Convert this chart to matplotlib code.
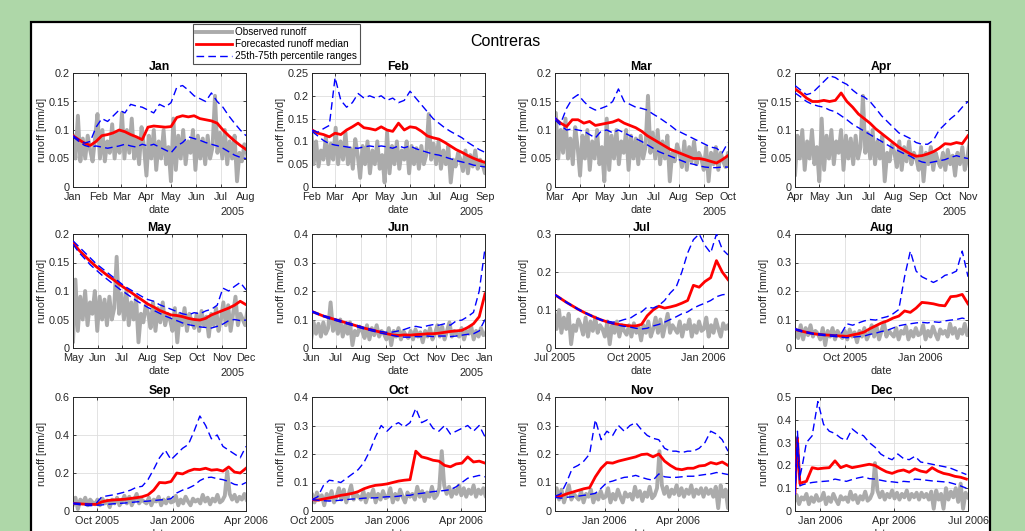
import numpy as np
import pandas as pd
import matplotlib
matplotlib.use('Agg')
import matplotlib.pyplot as plt
import matplotlib.dates as mdates
from matplotlib.patches import Rectangle
from matplotlib.ticker import FuncFormatter, MultipleLocator

plt.rcParams['font.family'] = ['Liberation Sans', 'DejaVu Sans']

# ---------------- data ----------------
MONTHS = ['Jan', 'Feb', 'Mar', 'Apr', 'May', 'Jun',
          'Jul', 'Aug', 'Sep', 'Oct', 'Nov', 'Dec']
STARTS = ['2005-01-01', '2005-02-01', '2005-03-01', '2005-04-01', '2005-05-01', '2005-06-01',
          '2005-07-01', '2005-08-01', '2005-09-01', '2005-10-01', '2005-11-01', '2005-12-01']
YMAX = [0.2, 0.25, 0.2, 0.2, 0.2, 0.4, 0.3, 0.4, 0.6, 0.4, 0.4, 0.5]
YSTEP = [0.05, 0.05, 0.05, 0.05, 0.05, 0.1, 0.1, 0.1, 0.2, 0.1, 0.1, 0.1]

# observed runoff, every 3 days from 2005-01-01
OBS_START = '2005-01-01'
obs = [
    0.090, 0.050, 0.125, 0.045, 0.085, 0.050, 0.090, 0.065, 0.045, 0.085,
    0.128, 0.050, 0.100, 0.045, 0.080, 0.060, 0.110, 0.050, 0.095, 0.060,
    0.130, 0.050, 0.100, 0.060, 0.120, 0.050, 0.085, 0.040, 0.105, 0.070,
    0.020, 0.090, 0.050, 0.100, 0.030, 0.080, 0.050, 0.100, 0.040, 0.070,
    0.010, 0.120, 0.030, 0.090, 0.050, 0.100, 0.040, 0.080, 0.060, 0.100,
    0.030, 0.090, 0.050, 0.085, 0.040, 0.090, 0.050, 0.070, 0.160, 0.060,
    0.095, 0.050, 0.100, 0.040, 0.080, 0.050, 0.090, 0.010, 0.060, 0.045, 0.075,
    0.060, 0.035, 0.080, 0.030, 0.070, 0.045, 0.080, 0.040, 0.060, 0.050,
    0.030, 0.070, 0.010, 0.060, 0.040, 0.070, 0.030, 0.060, 0.045, 0.035,
    0.060, 0.030, 0.065, 0.040, 0.055, 0.020, 0.060, 0.040, 0.070, 0.030,
    0.050, 0.080, 0.040, 0.075, 0.030, 0.060, 0.090, 0.040, 0.060, 0.050,
    0.040, 0.070, 0.030, 0.060, 0.050, 0.075, 0.030, 0.060, 0.040, 0.070, 0.045,
    0.050, 0.080, 0.030, 0.060, 0.040, 0.075, 0.050, 0.030, 0.065, 0.050,
    0.060, 0.040, 0.085, 0.050, 0.070, 0.035, 0.065, 0.050, 0.085, 0.045,
    0.055, 0.080, 0.210, 0.090, 0.060, 0.085, 0.050, 0.075, 0.060, 0.090,
    0.055, 0.080, 0.050, 0.075, 0.060, 0.090, 0.050, 0.075, 0.060, 0.080,
    0.050, 0.080, 0.060, 0.075, 0.050, 0.085, 0.010, 0.090, 0.050, 0.075,
    0.010, 0.100, 0.050, 0.085, 0.060, 0.100, 0.040, 0.120, 0.010, 0.080, 0.060,
]

# forecasts (median, 25th, 75th percentile), evenly spaced over each 7-month window
med_jan = [0.090, 0.083, 0.077, 0.073, 0.080, 0.090, 0.092, 0.095, 0.100, 0.097, 0.092, 0.088, 0.083, 0.105, 0.107, 0.106,
           0.105, 0.106, 0.122, 0.125, 0.123, 0.125, 0.120, 0.118, 0.116, 0.112, 0.100, 0.090, 0.081, 0.073, 0.066]
p75_jan = [0.090, 0.083, 0.077, 0.080, 0.105, 0.120, 0.115, 0.125, 0.135, 0.130, 0.145, 0.142, 0.140, 0.135, 0.130, 0.145,
           0.140, 0.148, 0.175, 0.178, 0.170, 0.160, 0.155, 0.150, 0.165, 0.150, 0.140, 0.125, 0.112, 0.100, 0.090]
p25_jan = [0.088, 0.080, 0.073, 0.070, 0.072, 0.070, 0.068, 0.070, 0.072, 0.075, 0.072, 0.070, 0.075, 0.072, 0.075, 0.070,
           0.065, 0.060, 0.072, 0.078, 0.088, 0.085, 0.082, 0.078, 0.075, 0.072, 0.068, 0.062, 0.056, 0.052, 0.050]

med_feb = [0.125, 0.118, 0.115, 0.110, 0.118, 0.115, 0.125, 0.132, 0.140, 0.130, 0.128, 0.125, 0.132, 0.125, 0.122, 0.140,
           0.125, 0.132, 0.130, 0.122, 0.112, 0.108, 0.105, 0.098, 0.090, 0.082, 0.076, 0.069, 0.063, 0.058, 0.054]
p75_feb = [0.125, 0.120, 0.128, 0.135, 0.240, 0.190, 0.175, 0.185, 0.205, 0.195, 0.200, 0.195, 0.200, 0.190, 0.195, 0.185,
           0.190, 0.210, 0.195, 0.180, 0.165, 0.150, 0.140, 0.130, 0.122, 0.115, 0.108, 0.098, 0.090, 0.082, 0.076]
p25_feb = [0.122, 0.112, 0.102, 0.095, 0.092, 0.090, 0.088, 0.086, 0.085, 0.088, 0.090, 0.088, 0.090, 0.088, 0.085, 0.090,
           0.086, 0.090, 0.084, 0.080, 0.076, 0.072, 0.070, 0.066, 0.062, 0.058, 0.055, 0.052, 0.048, 0.046, 0.044]

med_mar = [0.120, 0.112, 0.106, 0.118, 0.118, 0.112, 0.115, 0.108, 0.110, 0.112, 0.114, 0.118, 0.112, 0.108, 0.104, 0.098,
           0.090, 0.084, 0.078, 0.072, 0.066, 0.062, 0.058, 0.054, 0.050, 0.050, 0.048, 0.045, 0.042, 0.048, 0.055]
p75_mar = [0.122, 0.112, 0.138, 0.155, 0.162, 0.150, 0.140, 0.135, 0.138, 0.142, 0.150, 0.172, 0.150, 0.145, 0.140, 0.138,
           0.135, 0.128, 0.122, 0.115, 0.108, 0.100, 0.095, 0.090, 0.085, 0.080, 0.075, 0.070, 0.068, 0.060, 0.078]
p25_mar = [0.118, 0.108, 0.100, 0.102, 0.100, 0.098, 0.092, 0.086, 0.098, 0.100, 0.095, 0.100, 0.095, 0.090, 0.085, 0.080,
           0.074, 0.068, 0.062, 0.058, 0.054, 0.050, 0.046, 0.042, 0.040, 0.037, 0.035, 0.034, 0.034, 0.035, 0.035]

med_apr = [0.172, 0.165, 0.156, 0.150, 0.150, 0.152, 0.150, 0.152, 0.165, 0.150, 0.140, 0.128, 0.120, 0.112, 0.102, 0.094,
           0.086, 0.078, 0.070, 0.064, 0.058, 0.054, 0.055, 0.058, 0.062, 0.068, 0.076, 0.075, 0.078, 0.076, 0.090]
p75_apr = [0.178, 0.170, 0.162, 0.165, 0.175, 0.185, 0.195, 0.192, 0.185, 0.180, 0.170, 0.162, 0.158, 0.150, 0.138, 0.125,
           0.115, 0.105, 0.095, 0.090, 0.085, 0.078, 0.075, 0.075, 0.082, 0.100, 0.110, 0.120, 0.128, 0.140, 0.150]
p25_apr = [0.165, 0.158, 0.150, 0.145, 0.142, 0.140, 0.135, 0.132, 0.125, 0.118, 0.110, 0.104, 0.098, 0.092, 0.086, 0.080,
           0.074, 0.068, 0.063, 0.058, 0.054, 0.048, 0.044, 0.042, 0.044, 0.046, 0.048, 0.052, 0.055, 0.052, 0.050]

med_may = [0.185, 0.172, 0.162, 0.152, 0.143, 0.135, 0.127, 0.120, 0.112, 0.105, 0.098, 0.091, 0.084, 0.077, 0.072, 0.066,
           0.062, 0.058, 0.057, 0.055, 0.052, 0.050, 0.049, 0.052, 0.058, 0.062, 0.066, 0.070, 0.075, 0.082, 0.076]
p75_may = [0.188, 0.178, 0.168, 0.158, 0.148, 0.140, 0.132, 0.124, 0.116, 0.108, 0.102, 0.096, 0.090, 0.085, 0.082, 0.076,
           0.072, 0.068, 0.064, 0.060, 0.058, 0.062, 0.060, 0.065, 0.068, 0.075, 0.105, 0.100, 0.108, 0.115, 0.102]
p25_may = [0.182, 0.168, 0.157, 0.146, 0.137, 0.128, 0.120, 0.112, 0.104, 0.097, 0.090, 0.083, 0.077, 0.071, 0.066, 0.061,
           0.056, 0.052, 0.048, 0.044, 0.041, 0.039, 0.037, 0.036, 0.035, 0.038, 0.042, 0.048, 0.050, 0.048, 0.049]

med_jun = [0.128, 0.120, 0.112, 0.106, 0.100, 0.094, 0.088, 0.082, 0.076, 0.070, 0.065, 0.060, 0.055, 0.050, 0.046, 0.044,
           0.046, 0.045, 0.047, 0.048, 0.050, 0.050, 0.052, 0.055, 0.058, 0.060, 0.062, 0.072, 0.085, 0.110, 0.190]
p75_jun = [0.130, 0.122, 0.114, 0.108, 0.102, 0.096, 0.090, 0.084, 0.078, 0.072, 0.067, 0.062, 0.058, 0.055, 0.056, 0.060,
           0.065, 0.072, 0.076, 0.072, 0.078, 0.082, 0.080, 0.085, 0.080, 0.095, 0.098, 0.110, 0.125, 0.200, 0.350]
p25_jun = [0.126, 0.118, 0.110, 0.103, 0.097, 0.091, 0.085, 0.079, 0.073, 0.067, 0.062, 0.057, 0.052, 0.048, 0.044, 0.040,
           0.038, 0.038, 0.040, 0.040, 0.042, 0.040, 0.042, 0.042, 0.040, 0.042, 0.045, 0.048, 0.050, 0.060, 0.100]

med_jul = [0.140, 0.130, 0.120, 0.111, 0.102, 0.094, 0.087, 0.080, 0.074, 0.069, 0.065, 0.062, 0.060, 0.058, 0.058, 0.062,
           0.085, 0.100, 0.110, 0.105, 0.108, 0.112, 0.118, 0.125, 0.165, 0.160, 0.175, 0.185, 0.230, 0.200, 0.180]
p75_jul = [0.141, 0.131, 0.121, 0.112, 0.103, 0.095, 0.088, 0.081, 0.075, 0.071, 0.068, 0.070, 0.075, 0.078, 0.088, 0.095,
           0.108, 0.105, 0.112, 0.125, 0.145, 0.160, 0.200, 0.250, 0.285, 0.300, 0.270, 0.250, 0.300, 0.260, 0.245]
p25_jul = [0.139, 0.129, 0.119, 0.110, 0.101, 0.093, 0.086, 0.079, 0.073, 0.068, 0.064, 0.060, 0.057, 0.055, 0.052, 0.050,
           0.052, 0.058, 0.062, 0.068, 0.075, 0.082, 0.090, 0.095, 0.105, 0.112, 0.118, 0.125, 0.135, 0.140, 0.142]

med_aug = [0.065, 0.060, 0.055, 0.051, 0.048, 0.046, 0.045, 0.043, 0.042, 0.041, 0.046, 0.050, 0.056, 0.068, 0.078, 0.088,
           0.095, 0.105, 0.112, 0.130, 0.125, 0.140, 0.160, 0.158, 0.155, 0.150, 0.148, 0.180, 0.182, 0.188, 0.155]
p75_aug = [0.068, 0.062, 0.057, 0.052, 0.050, 0.048, 0.046, 0.045, 0.050, 0.085, 0.080, 0.088, 0.095, 0.100, 0.098, 0.105,
           0.110, 0.120, 0.135, 0.250, 0.340, 0.270, 0.250, 0.240, 0.230, 0.240, 0.255, 0.260, 0.270, 0.340, 0.250]
p25_aug = [0.064, 0.058, 0.053, 0.049, 0.046, 0.044, 0.042, 0.040, 0.038, 0.036, 0.038, 0.040, 0.042, 0.048, 0.052, 0.058,
           0.062, 0.070, 0.078, 0.082, 0.085, 0.088, 0.090, 0.088, 0.092, 0.090, 0.095, 0.098, 0.100, 0.105, 0.100]

med_sep = [0.040, 0.038, 0.036, 0.035, 0.035, 0.048, 0.055, 0.058, 0.060, 0.062, 0.066, 0.070, 0.075, 0.085, 0.110, 0.150,
           0.148, 0.155, 0.200, 0.195, 0.210, 0.220, 0.218, 0.225, 0.215, 0.218, 0.210, 0.232, 0.205, 0.200, 0.225]
p75_sep = [0.042, 0.040, 0.038, 0.036, 0.040, 0.075, 0.080, 0.085, 0.092, 0.100, 0.110, 0.125, 0.130, 0.165, 0.220, 0.280,
           0.320, 0.270, 0.300, 0.330, 0.350, 0.420, 0.500, 0.450, 0.380, 0.400, 0.340, 0.320, 0.300, 0.280, 0.340]
p25_sep = [0.038, 0.034, 0.030, 0.028, 0.030, 0.032, 0.035, 0.038, 0.040, 0.042, 0.045, 0.048, 0.050, 0.052, 0.055, 0.058,
           0.060, 0.065, 0.095, 0.110, 0.120, 0.135, 0.160, 0.175, 0.178, 0.170, 0.165, 0.155, 0.140, 0.135, 0.150]

med_oct = [0.040, 0.038, 0.042, 0.046, 0.050, 0.055, 0.058, 0.062, 0.068, 0.078, 0.085, 0.090, 0.092, 0.095, 0.100, 0.105,
           0.108, 0.110, 0.210, 0.190, 0.185, 0.178, 0.175, 0.160, 0.155, 0.165, 0.168, 0.190, 0.172, 0.175, 0.168]
p75_oct = [0.040, 0.050, 0.090, 0.108, 0.105, 0.100, 0.115, 0.130, 0.145, 0.170, 0.210, 0.260, 0.300, 0.280, 0.300, 0.310,
           0.295, 0.310, 0.360, 0.310, 0.320, 0.290, 0.280, 0.300, 0.270, 0.280, 0.290, 0.300, 0.280, 0.300, 0.260]
p25_oct = [0.040, 0.038, 0.036, 0.035, 0.036, 0.038, 0.040, 0.042, 0.043, 0.045, 0.046, 0.046, 0.048, 0.050, 0.050, 0.052,
           0.055, 0.055, 0.060, 0.062, 0.065, 0.068, 0.070, 0.072, 0.075, 0.085, 0.100, 0.115, 0.120, 0.125, 0.120]

med_nov = [0.050, 0.052, 0.060, 0.066, 0.072, 0.078, 0.082, 0.120, 0.150, 0.170, 0.168, 0.175, 0.180, 0.185, 0.190, 0.198,
           0.200, 0.190, 0.200, 0.175, 0.160, 0.148, 0.145, 0.150, 0.150, 0.158, 0.160, 0.170, 0.165, 0.172, 0.160]
p75_nov = [0.052, 0.060, 0.100, 0.150, 0.160, 0.175, 0.200, 0.320, 0.250, 0.280, 0.265, 0.300, 0.280, 0.300, 0.310, 0.285,
           0.265, 0.255, 0.250, 0.220, 0.210, 0.210, 0.205, 0.210, 0.210, 0.220, 0.240, 0.280, 0.270, 0.250, 0.210]
p25_nov = [0.048, 0.045, 0.048, 0.050, 0.052, 0.055, 0.058, 0.062, 0.080, 0.100, 0.105, 0.112, 0.118, 0.120, 0.125, 0.118,
           0.112, 0.108, 0.130, 0.120, 0.118, 0.118, 0.120, 0.122, 0.122, 0.125, 0.128, 0.130, 0.135, 0.132, 0.128]

# December forecast has a denser start (days after 1 Dec 2005)
DEC_DAYS = [0, 3, 6, 9] + list(range(14, 211, 7))
med_dec = [0.080, 0.320, 0.120, 0.125, 0.130, 0.190, 0.185, 0.188, 0.190, 0.220, 0.190, 0.200, 0.190, 0.195, 0.200, 0.205,
           0.200, 0.185, 0.172, 0.165, 0.175, 0.180, 0.170, 0.185, 0.175, 0.170, 0.190, 0.175, 0.165, 0.160, 0.152,
           0.148, 0.140]
p75_dec = [0.090, 0.350, 0.150, 0.200, 0.300, 0.330, 0.480, 0.380, 0.350, 0.340, 0.320, 0.310, 0.360, 0.340, 0.330, 0.300,
           0.280, 0.250, 0.235, 0.225, 0.250, 0.230, 0.225, 0.240, 0.215, 0.210, 0.205, 0.200, 0.195, 0.190, 0.180,
           0.170, 0.160]
p25_dec = [0.070, 0.300, 0.110, 0.115, 0.120, 0.125, 0.128, 0.130, 0.132, 0.140, 0.135, 0.130, 0.138, 0.145, 0.150, 0.142,
           0.140, 0.135, 0.130, 0.128, 0.125, 0.130, 0.128, 0.140, 0.138, 0.135, 0.132, 0.130, 0.128, 0.125, 0.118,
           0.110, 0.100]

MED = [med_jan, med_feb, med_mar, med_apr, med_may, med_jun, med_jul, med_aug, med_sep, med_oct, med_nov, med_dec]
P25 = [p25_jan, p25_feb, p25_mar, p25_apr, p25_may, p25_jun, p25_jul, p25_aug, p25_sep, p25_oct, p25_nov, p25_dec]
P75 = [p75_jan, p75_feb, p75_mar, p75_apr, p75_may, p75_jun, p75_jul, p75_aug, p75_sep, p75_oct, p75_nov, p75_dec]

# ---------------- styling ----------------
GREEN = '#aed7a8'
GRAY = '#ababab'
AXC = '#262626'
W, H = 1025, 531
FS = 7.8

fig = plt.figure(figsize=(W / 100, H / 100), dpi=100, facecolor=GREEN)
bg = fig.add_axes([0, 0, 1, 1], zorder=-10)
bg.set_xlim(0, W)
bg.set_ylim(H, 0)
bg.axis('off')
bg.add_patch(Rectangle((30.5, 22), 959, H + 20, facecolor='white', edgecolor='black', linewidth=1.6))

col_left = [73, 312, 555, 795]
row_top = [73, 234, 397]
axw, axh = 173, 114

obs_dates = pd.Timestamp(OBS_START) + pd.to_timedelta(np.arange(len(obs)) * 3, unit='D')
yfmt = FuncFormatter(lambda v, p: '%g' % round(v, 4))

handles = None
for i in range(12):
    r, c = divmod(i, 4)
    ax = fig.add_axes([col_left[c] / W, 1 - (row_top[r] + axh) / H, axw / W, axh / H])
    start = pd.Timestamp(STARTS[i])
    end = start + pd.DateOffset(months=7)
    ndays = (end - start).days
    n = len(MED[i])
    if i == 11:
        days = np.array(DEC_DAYS, dtype=float)
    else:
        days = np.linspace(0, ndays, n)
    fd = start + pd.to_timedelta(days, unit='D')

    h1, = ax.plot(obs_dates, obs, color=GRAY, lw=2.8, zorder=2)
    h2, = ax.plot(fd, MED[i], color='#ff0000', lw=2.0, zorder=3)
    h3, = ax.plot(fd, P25[i], color='#0000ff', lw=1.0, ls=(0, (5.5, 3)), zorder=4)
    ax.plot(fd, P75[i], color='#0000ff', lw=1.0, ls=(0, (5.5, 3)), zorder=4)
    if handles is None:
        handles = [h1, h2, h3]

    ax.set_xlim(start, end)
    ax.set_ylim(0, YMAX[i])
    ax.yaxis.set_major_locator(MultipleLocator(YSTEP[i]))
    ax.yaxis.set_major_formatter(yfmt)
    if i < 6:
        ax.xaxis.set_major_locator(mdates.MonthLocator())
        ax.xaxis.set_major_formatter(mdates.DateFormatter('%b'))
        ax.text(0.92, -0.215, '2005', transform=ax.transAxes, ha='center', va='center',
                fontsize=FS, color=AXC)
    else:
        ax.xaxis.set_major_locator(mdates.MonthLocator(bymonth=[1, 4, 7, 10]))
        ax.xaxis.set_major_formatter(mdates.DateFormatter('%b %Y'))

    ax.grid(True, color='#dedede', lw=0.6)
    ax.set_axisbelow(True)
    for s in ax.spines.values():
        s.set_color(AXC)
        s.set_linewidth(0.7)
    ax.tick_params(direction='in', length=2.5, width=0.6, top=True, right=True,
                   labelsize=FS, colors=AXC, labelcolor=AXC)
    ax.tick_params(axis='x', pad=3.5)
    ax.tick_params(axis='y', pad=2.5)
    ax.set_title(MONTHS[i], fontsize=8.8, fontweight='bold', pad=2.5, color='black')
    ax.set_xlabel('date', fontsize=FS, color=AXC)
    ax.xaxis.set_label_coords(0.5, -0.155)
    ax.set_ylabel('runoff [mm/d]', fontsize=FS, color=AXC)
    ax.yaxis.set_label_coords(-0.15, 0.5)

fig.text(505 / W, 1 - 42 / H, 'Contreras', ha='center', va='center', fontsize=11.5, color='black')

leg = fig.legend(handles, ['Observed runoff', 'Forecasted runoff median', '25th-75th percentile ranges'],
                 loc='upper left', bbox_to_anchor=(193 / W, 1 - 24 / H), borderaxespad=0,
                 fontsize=7.2, frameon=True, fancybox=False, handlelength=3.6, handletextpad=0.3,
                 labelspacing=0.2, borderpad=0.3)
leg.get_frame().set_edgecolor(AXC)
leg.get_frame().set_linewidth(0.8)

fig.savefig('out.png', dpi=100, facecolor=fig.get_facecolor())
